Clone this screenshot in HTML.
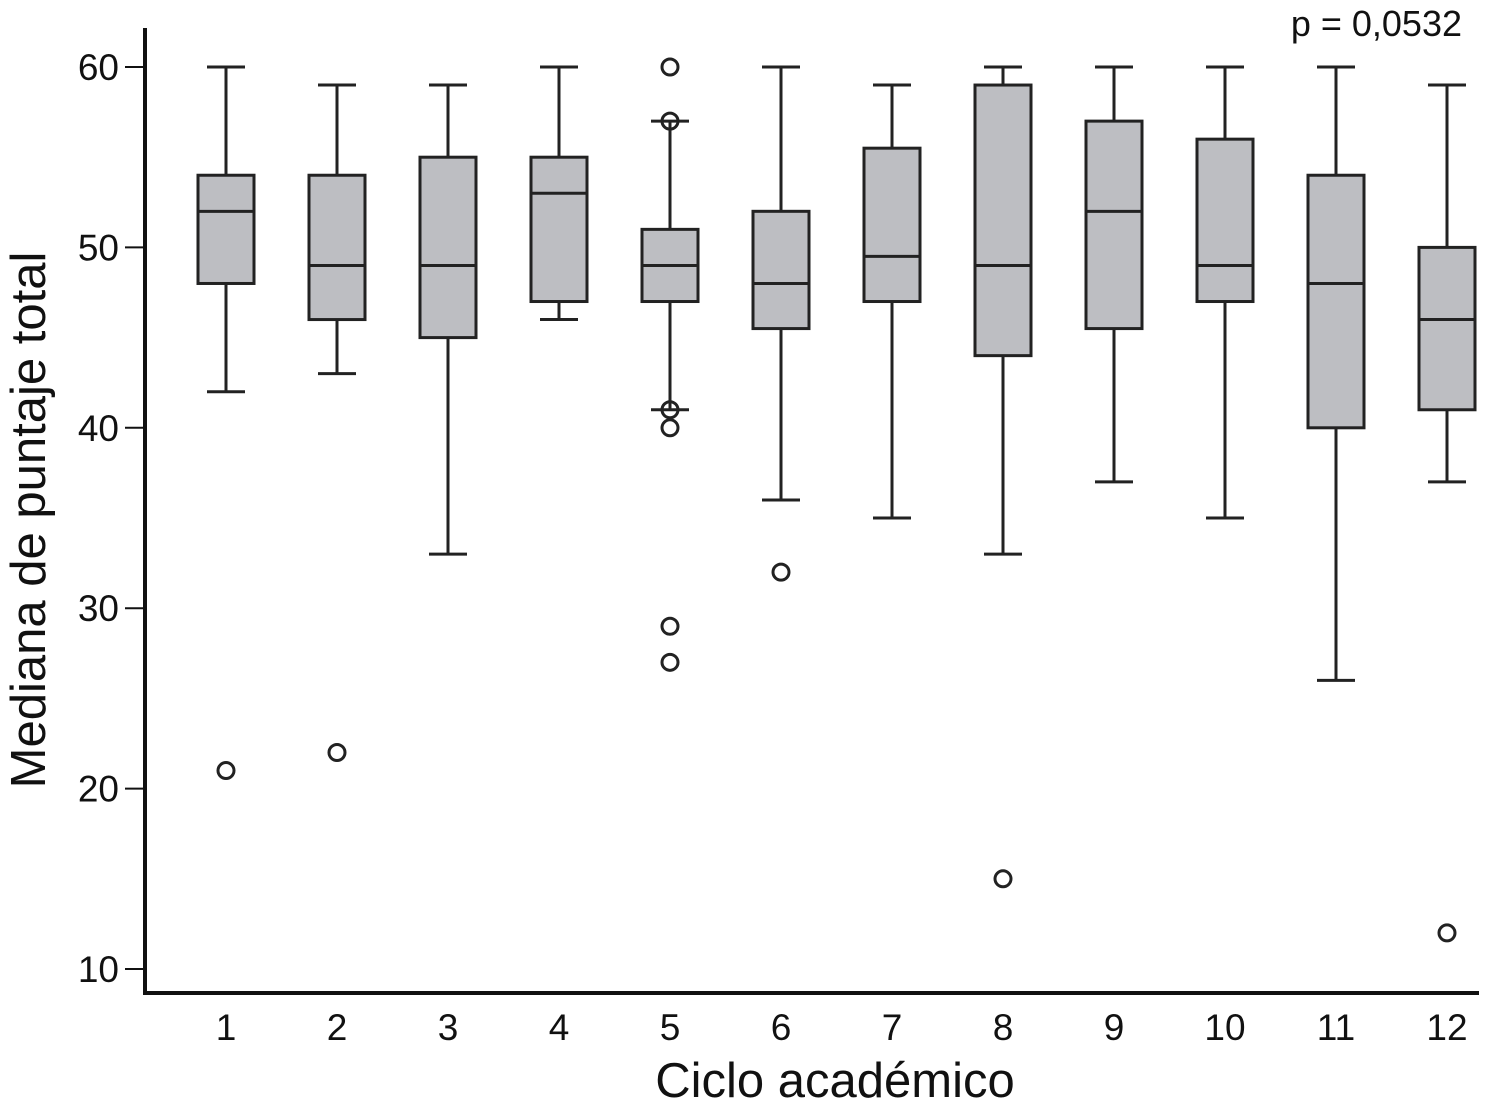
<!DOCTYPE html>
<html><head><meta charset="utf-8"><style>
html,body{margin:0;padding:0;background:#fff;}
svg{display:block;font-family:"Liberation Sans",Arial,sans-serif;}
</style></head><body>
<svg id="chart" width="1491" height="1108" viewBox="0 0 1491 1108">
<g id="axes"></g>
<g id="boxes"></g>
<text x="1462" y="36" font-size="36" text-anchor="end" fill="#111">p = 0,0532</text>
<text x="835" y="1097" font-size="49" text-anchor="middle" fill="#111">Ciclo académico</text>
<text transform="translate(45,520) rotate(-90)" font-size="49" text-anchor="middle" fill="#111">Mediana de puntaje total</text>
</svg>
<script>
const categories = ["1","2","3","4","5","6","7","8","9","10","11","12"];
const mins = [42,43,33,46,41,36,35,33,37,35,26,37];
const q1s = [48,46,45,47,47,45.5,47,44,45.5,47,40,41];
const medians = [52,49,49,53,49,48,49.5,49,52,49,48,46];
const q3s = [54,54,55,55,51,52,55.5,59,57,56,54,50];
const maxs = [60,59,59,60,57,60,59,60,60,60,60,59];
const outliers = [[21],[22],[],[],[60,57,41,40,29,27],[32],[],[15],[],[],[],[12]];
const yTicks = [10,20,30,40,50,60];

const NS="http://www.w3.org/2000/svg";
function y(v){return 67+(60-v)*(902/50);}
function x(i){return 226+i*(1221/11);}
function mk(tag,attrs,parent){const e=document.createElementNS(NS,tag);for(const k in attrs)e.setAttribute(k,attrs[k]);parent.appendChild(e);return e;}
const axes=document.getElementById('axes'), boxes=document.getElementById('boxes');
let e;
e=mk('line',{x1:145,y1:28,x2:145,y2:994,stroke:'#111','stroke-width':4},axes);


e=mk('line',{x1:143,y1:993,x2:1479,y2:993,stroke:'#111','stroke-width':4},axes);


yTicks.forEach(t=>{
  e=mk('line',{x1:125,y1:y(t),x2:145,y2:y(t),stroke:'#111','stroke-width':2},axes);
  
  
  e=mk('text',{x:119,y:y(t)+13,'font-size':37,'text-anchor':'end',fill:'#111'},axes);
  e.textContent=t;
  
  
});
categories.forEach((c,i)=>{
  const cx=x(i);
  e=mk('text',{x:cx,y:1040,'font-size':37,'text-anchor':'middle',fill:'#111'},axes);
  e.textContent=c;
  
  
  const g=mk('g',{},boxes);
  
  
  const st={stroke:'#222','stroke-width':3};
  mk('line',Object.assign({x1:cx,y1:y(maxs[i]),x2:cx,y2:y(q3s[i])},st),g);
  mk('line',Object.assign({x1:cx,y1:y(q1s[i]),x2:cx,y2:y(mins[i])},st),g);
  mk('line',Object.assign({x1:cx-19,y1:y(maxs[i]),x2:cx+19,y2:y(maxs[i])},st),g);
  mk('line',Object.assign({x1:cx-19,y1:y(mins[i]),x2:cx+19,y2:y(mins[i])},st),g);
  mk('rect',Object.assign({x:cx-28,y:y(q3s[i]),width:56,height:y(q1s[i])-y(q3s[i]),fill:'#bdbec2'},st),g);
  mk('line',Object.assign({x1:cx-28,y1:y(medians[i]),x2:cx+28,y2:y(medians[i])},st),g);
  outliers[i].forEach(o=>{
    e=mk('circle',{cx:cx,cy:y(o),r:8,fill:'none',stroke:'#222','stroke-width':3},g);
    
    
  });
});
</script>
</body></html>
